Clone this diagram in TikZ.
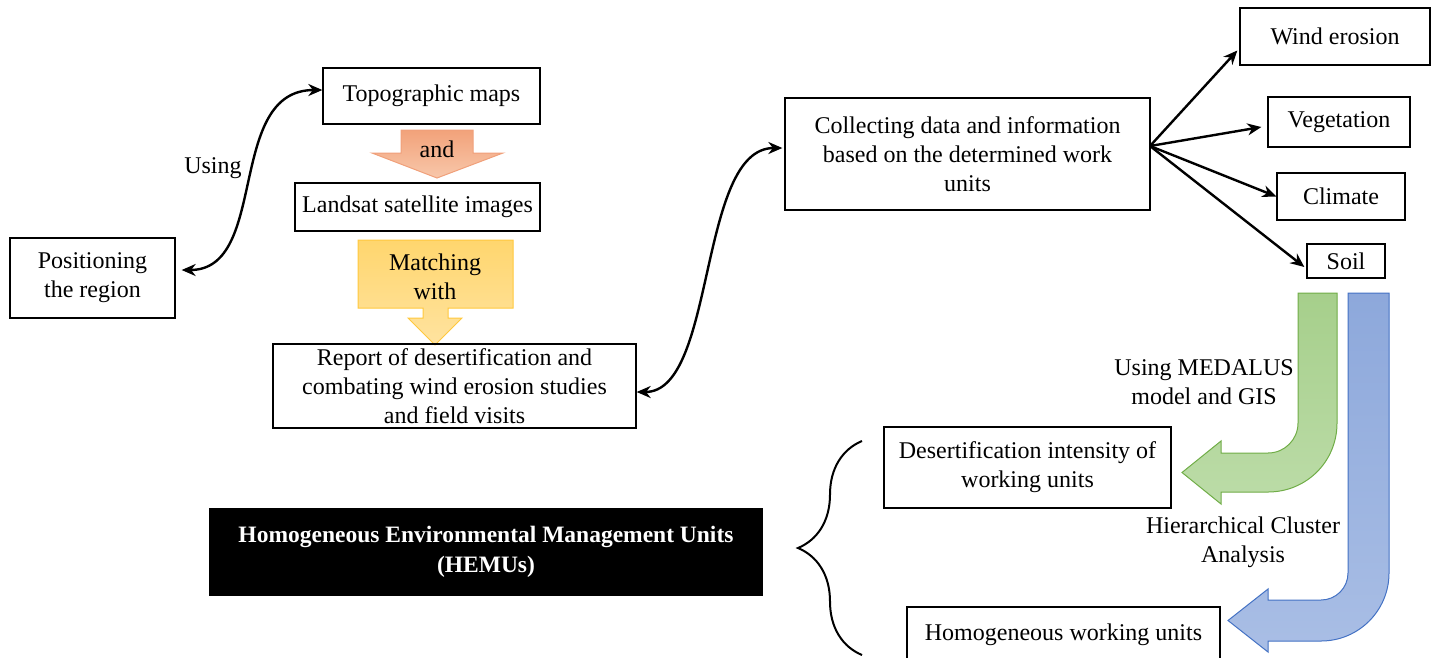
\documentclass[tikz,border=0pt]{standalone}
\usepackage{fontspec}
\setmainfont{Liberation Serif}
\usetikzlibrary{arrows.meta,decorations.pathreplacing}
\definecolor{ornA}{HTML}{F2A27A}
\definecolor{ornB}{HTML}{F8C7AA}
\definecolor{ornD}{HTML}{F0A07A}
\definecolor{ylwA}{HTML}{FFD66E}
\definecolor{ylwB}{HTML}{FFE3A0}
\definecolor{ylwD}{HTML}{FFC83D}
\definecolor{grnA}{HTML}{A6CF8B}
\definecolor{grnB}{HTML}{BCDCA8}
\definecolor{grnD}{HTML}{70AD47}
\definecolor{bluA}{HTML}{8DA8DB}
\definecolor{bluB}{HTML}{A9BEE5}
\definecolor{bluD}{HTML}{4472C4}

\begin{document}
\begin{tikzpicture}[x=1pt,y=-1pt,
  box/.style={draw=black, line width=1.3pt, inner sep=0pt, align=center, font=\fontsize{24}{29}\selectfont},
  lab/.style={inner sep=0pt, align=center, font=\fontsize{24}{29}\selectfont},
  link/.style={line width=2.4pt, -{Stealth[length=14pt,width=12pt]}},
  dlink/.style={line width=2.4pt, {Stealth[length=14pt,width=12pt]}-{Stealth[length=14pt,width=12pt]}}]
 \useasboundingbox (0,0) rectangle (1434,657);
 \begin{scope}
        % block arrows between the map boxes
        \draw[draw=ornD, line width=1pt, top color=ornA, bottom color=ornB] (401,130) -- (473,130) -- (473,153) -- (503,153) -- (437,178) -- (372,153) -- (401,153) -- cycle;
        \draw[draw=ylwD, line width=1pt, top color=ylwA, bottom color=ylwB] (358,240) -- (513,240) -- (513,308) -- (448,308) -- (448,318) -- (462,318) -- (435,345) -- (408,318) -- (423,318) -- (423,308) -- (358,308) -- cycle;
        % bent arrows under Soil
        \draw[draw=grnD, line width=1pt, top color=grnA, bottom color=grnB] (1298,293) -- (1298,423) .. controls (1298,439.6) and (1284.6,453) .. (1268,453) -- (1221,453) -- (1221,441) -- (1182,472.5) -- (1221,504) -- (1221,492) -- (1268,492) .. controls (1306.1,492) and (1337,461.9) .. (1337,423) -- (1337,293) -- cycle;
        \draw[draw=bluD, line width=1pt, top color=bluA, bottom color=bluB] (1348,293) -- (1348,573) .. controls (1348,587.9) and (1335.9,600) .. (1321,600) -- (1268,600) -- (1268,589) -- (1228,620.5) -- (1268,652) -- (1268,641) -- (1321,641) .. controls (1358.6,641) and (1389,610.6) .. (1389,573) -- (1389,293) -- cycle;

        \node[box, minimum width=165pt, minimum height=80pt] (B-1) at (92.5,278) {Positioning\\the region};
        \node[box, minimum width=217pt, minimum height=56pt] (B-2) at (431.5,96) {Topographic maps};
        \node[box, minimum width=245pt, minimum height=48pt] (B-3) at (417.5,207) {Landsat satellite images};
        \node[box, minimum width=363pt, minimum height=84pt] (B-4) at (454.5,386) {Report of desertification and\\combating wind erosion studies\\and field visits};
        \node[box, minimum width=365pt, minimum height=112pt] (B-5) at (967.5,154) {Collecting data and information\\based on the determined work\\units};
        \node[box, minimum width=190pt, minimum height=57pt] (B-6) at (1335,36.5) {Wind erosion};
        \node[box, minimum width=142pt, minimum height=50pt] (B-7) at (1339,122) {Vegetation};
        \node[box, minimum width=128pt, minimum height=47pt] (B-8) at (1341,196.5) {Climate};
        \node[box, minimum width=78pt, minimum height=34pt] (B-9) at (1346,261) {Soil};
        \node[box, minimum width=287pt, minimum height=81pt] (B-10) at (1027.5,467.5) {Desertification intensity of\\working units};
        \node[box, minimum width=313pt, minimum height=56pt] (B-11) at (1063.5,635) {Homogeneous working units};
        \node[box, fill=black, text=white, font=\fontsize{23.5}{30}\selectfont\bfseries, minimum width=552pt, minimum height=86pt] (H-1) at (486,552) {Homogeneous Environmental Management Units\\(HEMUs)};

        \node[lab] (L-1) at (213,168) {Using};
        \node[lab] (L-2) at (437,149) {and};
        \node[lab] (L-3) at (435,277) {Matching\\with};
        \node[lab] (L-4) at (1204,382) {Using MEDALUS\\model and GIS};
        \node[lab] (L-5) at (1243,542) {Hierarchical Cluster\\Analysis};

        \coordinate (F-1) at (1150,146);
        \draw[dlink] ([xshift=6pt,yshift=8pt]B-1.east) .. controls +(88,0) and +(-97,0) .. ([yshift=6pt]B-2.west);
        \draw[dlink] ([yshift=-6pt]B-4.east) .. controls +(80,0) and +(-85,0) .. ([xshift=-2pt,yshift=6pt]B-5.west);
        \draw[link] (F-1) -- ([xshift=-2pt,yshift=-14pt]B-6.west);
        \draw[link] (F-1) -- ([xshift=-6pt,yshift=-5pt]B-7.west);
        \draw[link] (F-1) -- (B-8.west);
        \draw[link] (F-1) -- ([xshift=-2pt,yshift=-6pt]B-9.west);
        \draw[line width=2pt, decorate, decoration={brace, amplitude=64pt}] (862,655) -- (862,441);
    \end{scope}
\end{tikzpicture}
\end{document}
